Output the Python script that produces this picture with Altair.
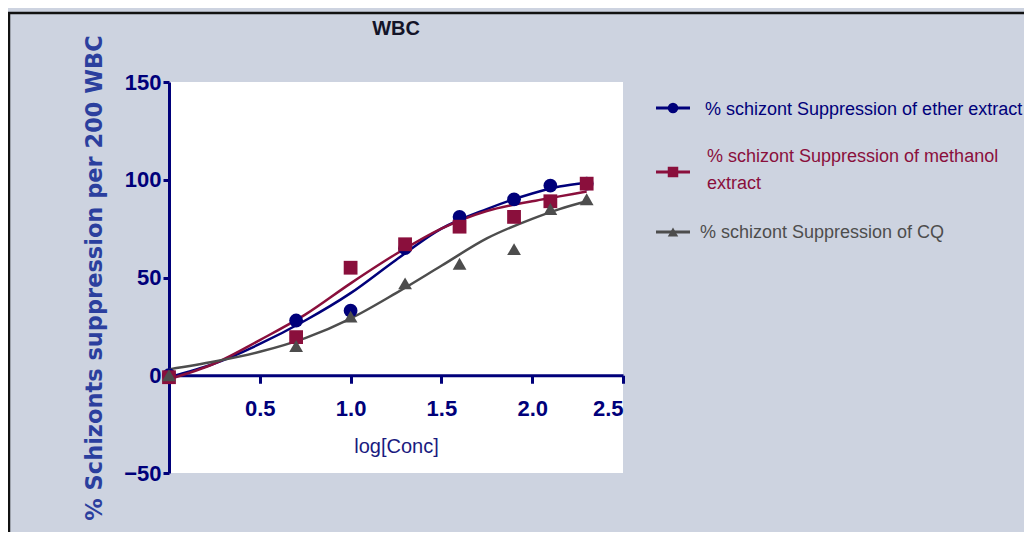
import altair as alt
import pandas as pd

# ---- data ----
series_names = [
    "% schizont Suppression of ether extract",
    "% schizont Suppression of methanol extract",
    "% schizont Suppression of CQ",
]
log_conc = [0.0, 0.7, 1.0, 1.3, 1.6, 1.9, 2.1, 2.3]
ether_vals = [0, 28, 33, 65, 81, 90, 97, 98]
methanol_vals = [-1, 19.5, 55, 67, 76, 81, 89, 98]
cq_vals = [0, 15, 30, 47, 57, 64.5, 85, 90]

curve_x = [0.0, 0.25, 0.5, 0.75, 1.0, 1.25, 1.5, 1.75, 2.0, 2.15, 2.3]
ether_curve = [-1, 6, 16, 28, 42, 59, 75, 85, 93, 96.5, 98.5]
methanol_curve = [-2, 6, 18, 31, 47, 62, 75, 84, 89, 91.5, 94]
cq_curve = [3, 7, 12, 19, 29, 42, 56, 70, 80, 85, 89]

y_ticks = [-50, 0, 50, 100, 150]
x_ticks = [0.5, 1.0, 1.5, 2.0, 2.5]

legend_lines = [
    ["% schizont Suppression of ether extract"],
    ["% schizont Suppression of methanol", "extract"],
    ["% schizont Suppression of CQ"],
]

colors = ["#00007a", "#8a0f3c", "#4d4d4d"]
shapes = ["circle", "square", "triangle-up"]

pts = pd.DataFrame(
    [(x, v, series_names[0]) for x, v in zip(log_conc, ether_vals)]
    + [(x, v, series_names[1]) for x, v in zip(log_conc, methanol_vals)]
    + [(x, v, series_names[2]) for x, v in zip(log_conc, cq_vals)],
    columns=["x", "y", "s"],
)
curves = pd.DataFrame(
    [(x, v, series_names[0]) for x, v in zip(curve_x, ether_curve)]
    + [(x, v, series_names[1]) for x, v in zip(curve_x, methanol_curve)]
    + [(x, v, series_names[2]) for x, v in zip(curve_x, cq_curve)],
    columns=["x", "y", "s"],
)

W, H = 454, 391
NAVY = "#00007a"
NARROW = "Liberation Sans Narrow, Arial Narrow, Liberation Sans, sans-serif"

color_scale = alt.Scale(domain=series_names, range=colors)
shape_scale = alt.Scale(domain=series_names, range=shapes)

xs = alt.Scale(domain=[0, 2.5], nice=False, zero=False)
ys = alt.Scale(domain=[-50, 150], nice=False)

x_axis = alt.Axis(
    values=x_ticks, format=".1f", offset=-H / 4, domainColor=NAVY, domainWidth=3,
    tickColor=NAVY, tickWidth=3, tickSize=8, labelColor=NAVY, labelFont=NARROW,
    labelFontSize=22, labelFontWeight="bold", labelPadding=15, grid=False,
    title="log[Conc]", titleFont=NARROW, titleFontSize=20, titleFontWeight="normal",
    titleColor="#1a1a80", titlePadding=17,
)
y_axis = alt.Axis(
    values=y_ticks, domainColor=NAVY, domainWidth=3, tickColor=NAVY, tickWidth=3,
    tickSize=6, labelColor=NAVY, labelFont=NARROW, labelFontSize=22,
    labelFontWeight="bold", labelPadding=2, grid=False,
    title="% Schizonts suppression per 200 WBC", titleFont="DejaVu Sans",
    titleFontSize=22.5, titleFontWeight="bold", titleColor="#2b3f9e", titlePadding=17,
)

lines = alt.Chart(curves).mark_line(strokeWidth=2.5, interpolate="monotone").encode(
    x=alt.X("x:Q", scale=xs, axis=x_axis),
    y=alt.Y("y:Q", scale=ys, axis=y_axis),
    color=alt.Color("s:N", scale=color_scale, legend=None),
    detail="s:N",
)
points = alt.Chart(pts).mark_point(filled=True, opacity=1, size=190).encode(
    x=alt.X("x:Q", scale=xs),
    y=alt.Y("y:Q", scale=ys),
    color=alt.Color("s:N", scale=color_scale, legend=None),
    shape=alt.Shape("s:N", scale=shape_scale, legend=None),
)

# manual legend (positions are styling, in pixels)
leg_rows = []
sym_y = [26, 90, 150]
text_x = [536, 538, 531]
text_y = [[28], [75, 102], [151]]
for i, name in enumerate(series_names):
    for j, line in enumerate(legend_lines[i]):
        leg_rows.append({"s": name, "t": line, "px": text_x[i], "py": text_y[i][j]})
leg_text_df = pd.DataFrame(leg_rows)
leg_sym_df = pd.DataFrame({"s": series_names, "py": sym_y})

leg_line = alt.Chart(leg_sym_df).mark_rule(strokeWidth=3).encode(
    x=alt.value(487), x2=alt.value(521), y=alt.Y("py:Q", scale=None),
    color=alt.Color("s:N", scale=color_scale, legend=None),
)
leg_sym = alt.Chart(leg_sym_df).mark_point(filled=True, opacity=1, size=110).encode(
    x=alt.value(504), y=alt.Y("py:Q", scale=None),
    color=alt.Color("s:N", scale=color_scale, legend=None),
    shape=alt.Shape("s:N", scale=shape_scale, legend=None),
)
leg_text = alt.Chart(leg_text_df).mark_text(
    align="left", baseline="middle", font=NARROW, fontSize=18
).encode(
    x=alt.X("px:Q", scale=None), y=alt.Y("py:Q", scale=None), text="t:N",
    color=alt.Color("s:N", scale=color_scale, legend=None),
)

title = alt.Chart(pd.DataFrame({"t": ["WBC"]})).mark_text(
    font=NARROW, fontSize=20, fontWeight="bold", color="#141428", baseline="middle"
).encode(x=alt.value(227), y=alt.value(-53), text="t:N")

frame = alt.Chart(pd.DataFrame({"a": [0]})).mark_rect(
    fill=None, stroke="#111111", strokeWidth=2.5
).encode(x=alt.value(-160), x2=alt.value(2000), y=alt.value(-69), y2=alt.value(1000))

chart = alt.layer(frame, lines, points, leg_line, leg_sym, leg_text, title).properties(
    width=W, height=H,
    autosize=alt.AutoSizeParams(type="none"),
    padding={"left": 161, "top": 74, "right": 401, "bottom": 59},
    background="#cdd3e0",
).configure_view(fill="white", stroke=None)

chart.save("out.html", embed_options={"renderer": "svg", "actions": False})
